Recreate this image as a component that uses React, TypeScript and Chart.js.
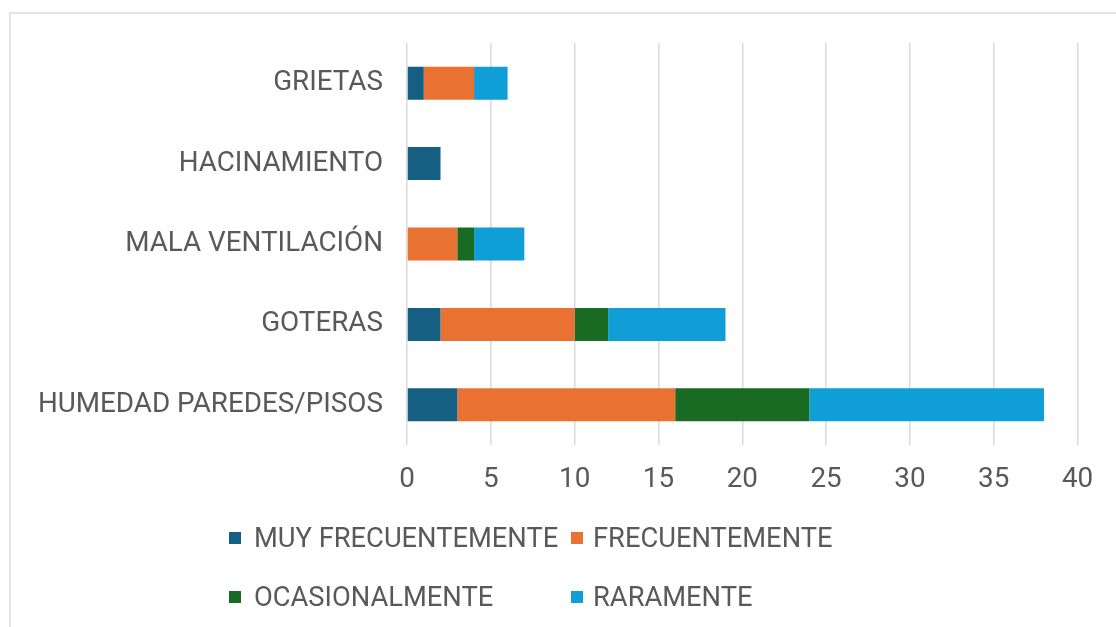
import { useEffect, useRef } from "react";
import { Chart, registerables } from "chart.js";

Chart.register(...registerables);

const categories = ["GRIETAS", "HACINAMIENTO", "MALA VENTILACIÓN", "GOTERAS", "HUMEDAD PAREDES/PISOS"];
const seriesNames = ["MUY FRECUENTEMENTE", "FRECUENTEMENTE", "OCASIONALMENTE", "RARAMENTE"];
const muyFrecuentemente = [1, 2, 0, 2, 3];
const frecuentemente = [3, 0, 3, 8, 13];
const ocasionalmente = [0, 0, 1, 2, 8];
const raramente = [2, 0, 3, 7, 14];
const xTicks = [0, 5, 10, 15, 20, 25, 30, 35, 40];
const colors = ["#156082", "#E97132", "#196B24", "#0F9ED5"];

const TEXT = "#595959";
const FONT = "Roboto";
const FS = 27.8;
const LEGEND_FS = 27.3;

export default function App() {
  const ref = useRef<HTMLCanvasElement | null>(null);

  useEffect(() => {
    const values = [muyFrecuentemente, frecuentemente, ocasionalmente, raramente];
    const chart = new Chart(ref.current!, {
      type: "bar",
      data: {
        labels: categories,
        datasets: seriesNames.map((name, i) => ({
          label: name,
          data: values[i],
          backgroundColor: colors[i],
          borderWidth: 0,
          categoryPercentage: 1,
          barPercentage: 0.41,
        })),
      },
      options: {
        indexAxis: "y",
        responsive: false,
        animation: false,
        layout: { padding: { top: 43, right: 38.5, left: 0, bottom: 0 } },
        plugins: {
          legend: { display: false },
          tooltip: { enabled: false },
          title: { display: false },
        },
        scales: {
          x: {
            stacked: true,
            min: 0,
            max: 40,
            afterBuildTicks: (scale: any) => {
              scale.ticks = xTicks.map((v) => ({ value: v }));
            },
            afterFit: (scale: any) => {
              scale.height = 182;
            },
            grid: { color: "#d9d9d9", lineWidth: 1.5, drawTicks: false },
            border: { display: false },
            ticks: {
              color: TEXT,
              font: { family: FONT, size: FS },
              padding: 18,
            },
          },
          y: {
            stacked: true,
            afterFit: (scale: any) => {
              scale.width = 407;
            },
            grid: { display: false, drawTicks: false },
            border: { display: false },
            ticks: {
              color: TEXT,
              font: { family: FONT, size: FS },
              padding: 24,
            },
          },
        },
      },
    });
    return () => chart.destroy();
  }, []);

  const legendPos = [
    { sx: 229, tx: 254, cy: 538 },
    { sx: 571, tx: 593, cy: 538 },
    { sx: 229, tx: 254, cy: 597 },
    { sx: 571, tx: 593, cy: 597 },
  ];

  return (
    <div
      style={{
        position: "fixed",
        left: 0,
        top: 0,
        width: 1116,
        height: 627,
        background: "#ffffff",
        overflow: "hidden",
        fontFamily: FONT,
      }}
    >
      <div
        style={{
          position: "absolute",
          left: 9,
          top: 12,
          width: 1200,
          height: 700,
          border: "2px solid #e3e3e3",
        }}
      />
      <canvas
        ref={ref}
        width={1116}
        height={627}
        style={{ position: "absolute", left: 0, top: 0, width: 1116, height: 627 }}
      />
      {seriesNames.map((name, i) => (
        <div key={name}>
          <div
            style={{
              position: "absolute",
              left: legendPos[i].sx,
              top: legendPos[i].cy - 6,
              width: 12,
              height: 12,
              background: colors[i],
            }}
          />
          <div
            style={{
              position: "absolute",
              left: legendPos[i].tx,
              top: legendPos[i].cy - 15,
              height: 30,
              lineHeight: "30px",
              fontSize: LEGEND_FS,
              color: TEXT,
              whiteSpace: "nowrap",
            }}
          >
            {name}
          </div>
        </div>
      ))}
    </div>
  );
}
